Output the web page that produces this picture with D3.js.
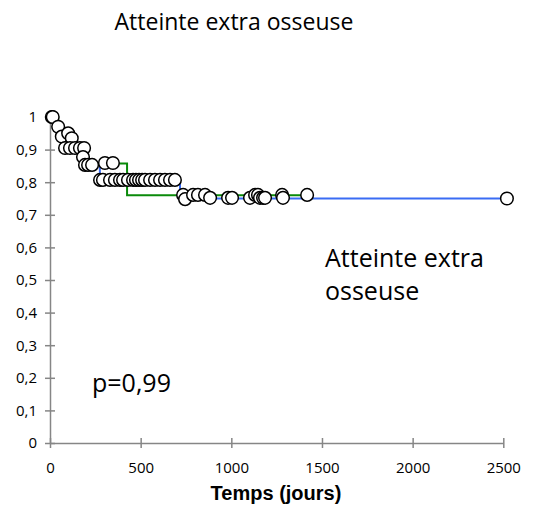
<html>
<head>
<script src="https://d3js.org/d3.v7.min.js"></script>
<style>
  body { margin: 0; background: #fff; }
  text { font-family: "Open Sans", sans-serif; }
</style>
</head>
<body>
<svg id="plot"></svg>
<script>

// step curves (Kaplan-Meier like)
var greenTimes = [0, 45, 100, 180, 425, 1390];
var greenSurv  = [1, 0.95, 0.9, 0.857, 0.76, 0.76];

var blueTimes = [0, 30, 65, 120, 190, 275, 717, 2520];
var blueSurv  = [1, 0.97, 0.94, 0.905, 0.855, 0.807, 0.75, 0.75];

// censored marks
var censorTimes = [10, 15, 45, 65, 100, 120,
  83, 110, 138, 165, 188, 182,
  193, 210, 232, 303, 347,
  276, 292, 331, 358, 386, 403, 430, 458, 474, 491, 508, 524, 552, 579, 607, 634, 662, 689,
  734, 745, 789, 816, 855, 883, 982, 1004, 1103, 1131, 1147, 1158, 1175, 1186, 1280, 1285, 1418,
  2520];
var censorSurv = [1, 1, 0.97, 0.94, 0.95, 0.935,
  0.905, 0.905, 0.905, 0.905, 0.905, 0.877,
  0.853, 0.853, 0.853, 0.859, 0.859,
  0.807, 0.807, 0.807, 0.807, 0.807, 0.807, 0.807, 0.807, 0.807, 0.807, 0.807, 0.807, 0.807, 0.807, 0.807, 0.807, 0.807, 0.807,
  0.761, 0.748, 0.761, 0.761, 0.761, 0.752, 0.752, 0.752, 0.752, 0.761, 0.761, 0.752, 0.752, 0.752, 0.761, 0.752, 0.761,
  0.75];

var xTicks = [0, 500, 1000, 1500, 2000, 2500];
var yTicks = [0, 0.1, 0.2, 0.3, 0.4, 0.5, 0.6, 0.7, 0.8, 0.9, 1];

var width = 538;
var height = 513;

var svg = d3.select("#plot")
    .attr("width", width)
    .attr("height", height);

var xScale = d3.scaleLinear().domain([0, 2500]).range([50, 503.3]);
var yScale = d3.scaleLinear().domain([0, 1]).range([443, 117]);

var comma = function(d) { return String(d).replace(".", ","); };

//axes
var yAxis = svg.append("g")
    .attr("transform", "translate(50,0)")
    .call(d3.axisLeft(yScale).tickValues(yTicks).tickFormat(comma).tickSizeInner(5).tickSizeOuter(0).tickPadding(8));
yAxis.selectAll(".tick line").attr("x1", 5);

var xAxis = svg.append("g")
    .attr("transform", "translate(0,443)")
    .call(d3.axisBottom(xScale).tickValues(xTicks).tickFormat(d3.format("d")).tickSizeInner(5).tickSizeOuter(0).tickPadding(14));
xAxis.selectAll(".tick line").attr("y1", -5);

svg.selectAll(".domain, .tick line")
    .attr("stroke", "#868686")
    .attr("stroke-width", 1.5);
svg.selectAll(".tick text")
    .attr("fill", "#000")
    .style("font-family", "'Open Sans', sans-serif")
    .style("font-size", "15px");

//step lines
var stepLine = d3.line()
    .x(function(d) { return xScale(d[0]); })
    .y(function(d) { return yScale(d[1]); })
    .curve(d3.curveStepAfter);

svg.append("path")
    .datum(d3.zip(blueTimes, blueSurv))
    .attr("d", stepLine)
    .attr("fill", "none")
    .attr("stroke", "#3a6cf4")
    .attr("stroke-width", 2);

svg.append("path")
    .datum(d3.zip(greenTimes, greenSurv))
    .attr("d", stepLine)
    .attr("fill", "none")
    .attr("stroke", "#0a8a0a")
    .attr("stroke-width", 2);

//censor circles
svg.selectAll("circle")
    .data(d3.zip(censorTimes, censorSurv))
    .enter()
    .append("circle")
    .attr("cx", function(d) { return xScale(d[0]); })
    .attr("cy", function(d) { return yScale(d[1]); })
    .attr("r", 6.3)
    .attr("fill", "#fff")
    .attr("stroke", "#000")
    .attr("stroke-width", 1.5);

//texts
svg.append("text")
    .attr("x", 234)
    .attr("y", 30)
    .attr("text-anchor", "middle")
    .style("font-size", "23px")
    .text("Atteinte extra osseuse");

svg.append("text")
    .attr("x", 325)
    .attr("y", 267)
    .style("font-size", "25px")
    .text("Atteinte extra");
svg.append("text")
    .attr("x", 325)
    .attr("y", 300)
    .style("font-size", "25px")
    .text("osseuse");

svg.append("text")
    .attr("x", 92)
    .attr("y", 392)
    .style("font-size", "25px")
    .text("p=0,99");

svg.append("text")
    .attr("x", 276)
    .attr("y", 500)
    .attr("text-anchor", "middle")
    .style("font-family", "'Liberation Sans', Arial, sans-serif")
    .style("font-weight", "bold")
    .style("font-size", "20px")
    .text("Temps (jours)");

</script>
</body>
</html>
